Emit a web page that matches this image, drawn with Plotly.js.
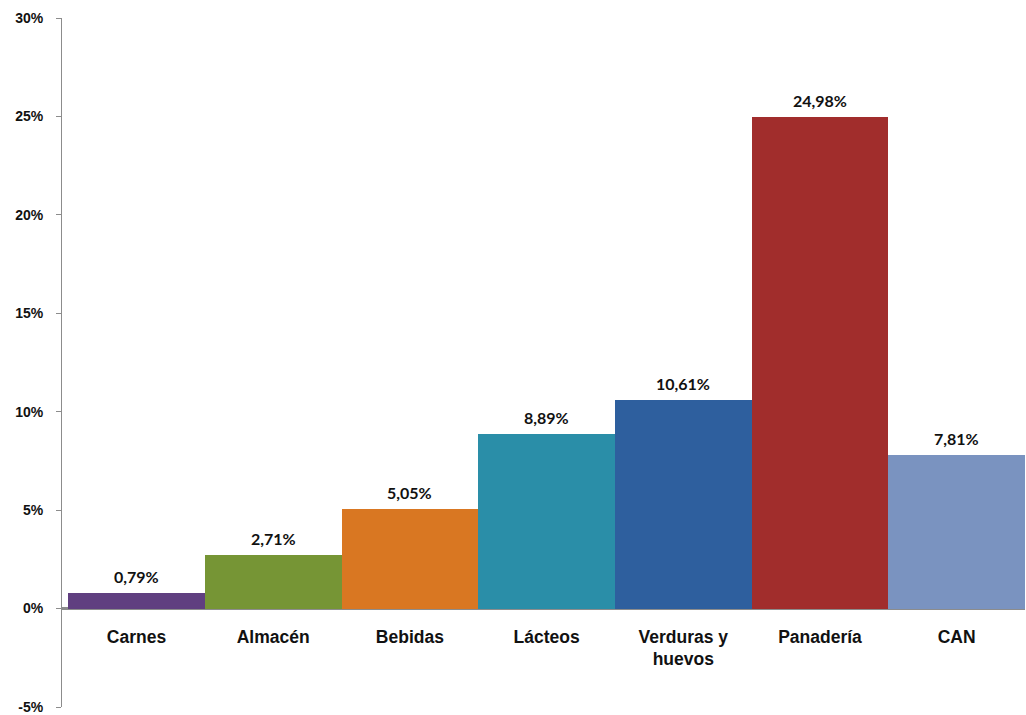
<!DOCTYPE html>
<html>
<head>
<meta charset="utf-8">
<script src="https://cdn.plot.ly/plotly-3.0.1.min.js"></script>
<style>html,body{margin:0;padding:0;background:#fff;}#chart{width:1026px;height:715px;}</style>
</head>
<body>
<div id="chart"></div>
<script>
const categories = ["Carnes", "Almacén", "Bebidas", "Lácteos", "Verduras y<br>huevos", "Panadería", "CAN"];
const values = [0.79, 2.71, 5.05, 8.89, 10.61, 24.98, 7.81];
const colors = ["#603f80", "#769535", "#d97722", "#2a8ea8", "#2e5f9e", "#a12d2c", "#7a93c0"];
const yTicks = [-5, 0, 5, 10, 15, 20, 25, 30];

const fmt = v => v.toFixed(2).replace('.', ',') + '%';

const trace = {
  type: 'bar',
  x: categories.map((c, i) => i),
  y: values,
  width: 1,
  marker: { color: colors, line: { width: 0 } },
  hoverinfo: 'skip'
};

const annotations = values.map((v, i) => ({
  x: i, y: v, xref: 'x', yref: 'y',
  text: '<b>' + fmt(v) + '</b>',
  showarrow: false, yanchor: 'bottom', yshift: 5,
  font: { family: 'Lato, "Open Sans", sans-serif', size: 16, color: '#111' }
}));

const layout = {
  width: 1026, height: 715,
  margin: { l: 62, r: 1, t: 18, b: 8 },
  paper_bgcolor: '#ffffff', plot_bgcolor: '#ffffff',
  showlegend: false,
  bargap: 0,
  xaxis: {
    range: [-0.545, 6.5],
    tickmode: 'array',
    tickvals: categories.map((c, i) => i),
    ticktext: categories.map(c => '<b>' + c + '</b>'),
    anchor: 'free',
    position: 99 / 689,
    showline: false, showgrid: false, zeroline: false,
    ticks: '', ticklabelstandoff: 16,
    tickfont: { family: '"Liberation Sans", Arial, sans-serif', size: 17.5, color: '#111' }
  },
  yaxis: {
    range: [-5, 30],
    tickmode: 'array',
    tickvals: yTicks,
    ticktext: yTicks.map(t => '<b>' + t + '%</b>'),
    showgrid: false,
    showline: true, linecolor: '#8c8c8c', linewidth: 1,
    ticks: 'outside', ticklen: 5, tickcolor: '#8c8c8c', tickwidth: 1,
    ticklabelstandoff: 10,
    zeroline: true, zerolinecolor: '#8c8c8c', zerolinewidth: 3,
    tickfont: { family: '"Liberation Sans", Arial, sans-serif', size: 14, color: '#111' }
  },
  annotations: annotations
};

Plotly.newPlot('chart', [trace], layout, { displayModeBar: false, staticPlot: true });
</script>
</body>
</html>
